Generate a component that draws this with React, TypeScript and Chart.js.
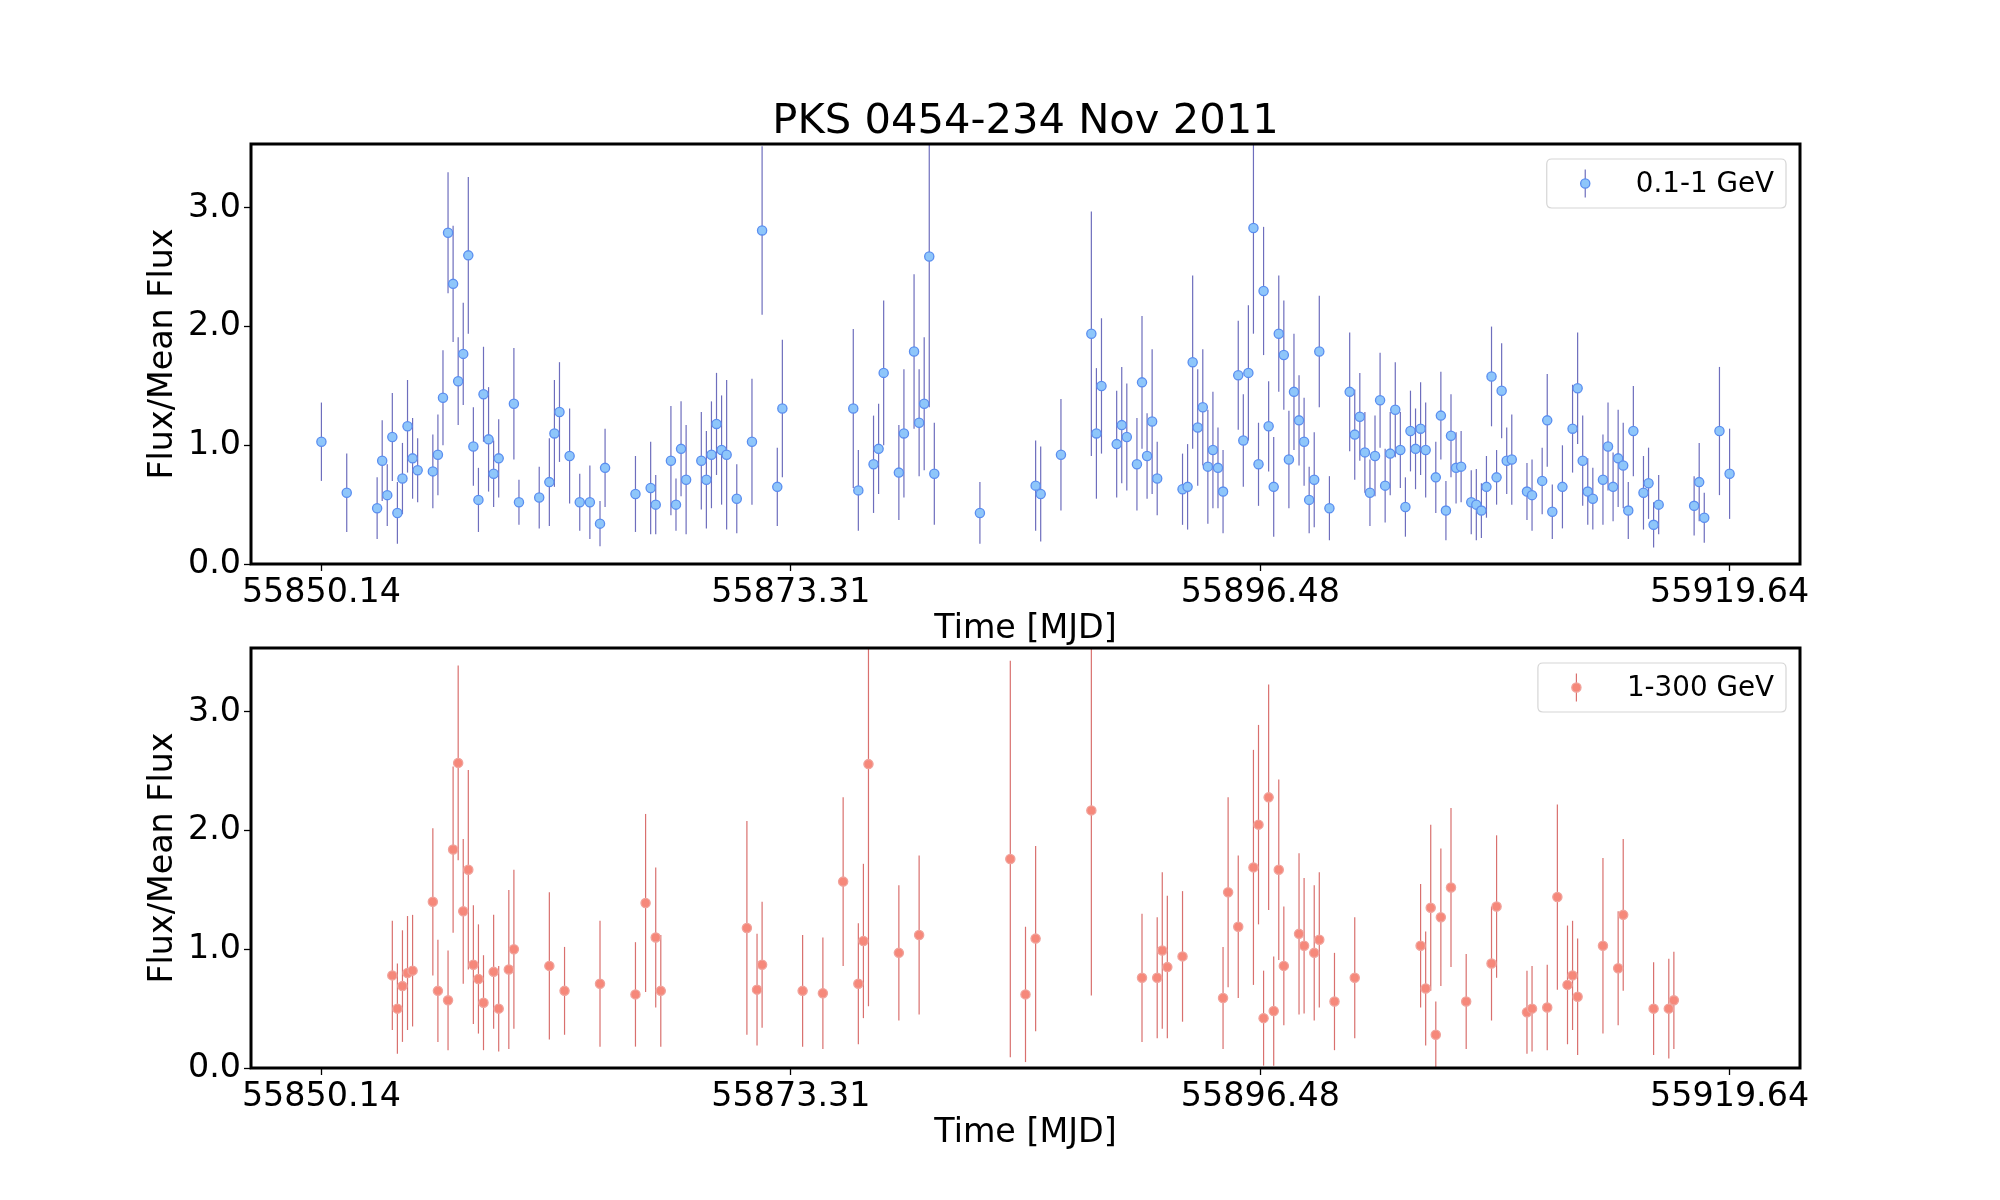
import React, { useEffect, useRef } from "react";
import { Chart, registerables } from "chart.js";

Chart.register(...registerables);

// ---------- data ----------
const TITLE = "PKS 0454-234 Nov 2011";
const X_LABEL = "Time [MJD]";
const Y_LABEL = "Flux/Mean Flux";
const X_TICKS = [55850.14, 55873.31, 55896.48, 55919.64];
const Y_TICKS = [0, 1, 2, 3];
const X_MIN = 55846.665;
const X_MAX = 55923.115;
const Y_MIN = 0;
const Y_MAX = 3.538;

const LOW_LABEL = "0.1-1 GeV";
const LOW_T = [
  55850.14, 55851.39, 55852.89, 55853.14, 55853.39, 55853.64, 55853.89, 55854.14, 55854.39, 55854.64,
  55854.89, 55855.64, 55855.89, 55856.14, 55856.39, 55856.64, 55856.89, 55857.14, 55857.39, 55857.64,
  55857.89, 55858.14, 55858.39, 55858.64, 55858.89, 55859.64, 55859.89, 55860.89, 55861.39, 55861.64,
  55861.89, 55862.39, 55862.89, 55863.39, 55863.89, 55864.14, 55865.64, 55866.39, 55866.64, 55867.39,
  55867.64, 55867.89, 55868.14, 55868.89, 55869.14, 55869.39, 55869.64, 55869.89, 55870.14, 55870.64,
  55871.39, 55871.89, 55872.64, 55872.89, 55876.39, 55876.64, 55877.39, 55877.64, 55877.89, 55878.64,
  55878.89, 55879.39, 55879.64, 55879.89, 55880.14, 55880.39, 55882.64, 55885.39, 55885.64, 55886.64,
  55888.14, 55888.39, 55888.64, 55889.39, 55889.64, 55889.89, 55890.39, 55890.64, 55890.89, 55891.14,
  55891.39, 55892.64, 55892.89, 55893.14, 55893.39, 55893.64, 55893.89, 55894.14, 55894.39, 55894.64,
  55895.39, 55895.64, 55895.89, 55896.14, 55896.39, 55896.64, 55896.89, 55897.14, 55897.39, 55897.64,
  55897.89, 55898.14, 55898.39, 55898.64, 55898.89, 55899.14, 55899.39, 55899.89, 55900.89, 55901.14,
  55901.39, 55901.64, 55901.89, 55902.14, 55902.39, 55902.64, 55902.89, 55903.14, 55903.39, 55903.64,
  55903.89, 55904.14, 55904.39, 55904.64, 55905.14, 55905.39, 55905.64, 55905.89, 55906.14, 55906.39,
  55906.89, 55907.14, 55907.39, 55907.64, 55907.89, 55908.14, 55908.39, 55908.64, 55908.89, 55909.64,
  55909.89, 55910.39, 55910.64, 55910.89, 55911.39, 55911.89, 55912.14, 55912.39, 55912.64, 55912.89,
  55913.39, 55913.64, 55913.89, 55914.14, 55914.39, 55914.64, 55914.89, 55915.39, 55915.64, 55915.89,
  55916.14, 55917.89, 55918.14, 55918.39, 55919.14, 55919.64,
];
const LOW_FLUX = [
  1.03, 0.60, 0.47, 0.87, 0.58, 1.07, 0.43, 0.72, 1.16, 0.89,
  0.79, 0.78, 0.92, 1.40, 2.79, 2.36, 1.54, 1.77, 2.60, 0.99,
  0.54, 1.43, 1.05, 0.76, 0.89, 1.35, 0.52, 0.56, 0.69, 1.10,
  1.28, 0.91, 0.52, 0.52, 0.34, 0.81, 0.59, 0.64, 0.50, 0.87,
  0.50, 0.97, 0.71, 0.87, 0.71, 0.92, 1.18, 0.96, 0.92, 0.55,
  1.03, 2.81, 0.65, 1.31, 1.31, 0.62, 0.84, 0.97, 1.61, 0.77,
  1.10, 1.79, 1.19, 1.35, 2.59, 0.76, 0.43, 0.66, 0.59, 0.92,
  1.94, 1.10, 1.50, 1.01, 1.17, 1.07, 0.84, 1.53, 0.91, 1.20,
  0.72, 0.63, 0.65, 1.70, 1.15, 1.32, 0.82, 0.96, 0.81, 0.61,
  1.59, 1.04, 1.61, 2.83, 0.84, 2.30, 1.16, 0.65, 1.94, 1.76,
  0.88, 1.45, 1.21, 1.03, 0.54, 0.71, 1.79, 0.47, 1.45, 1.09,
  1.24, 0.94, 0.60, 0.91, 1.38, 0.66, 0.93, 1.30, 0.96, 0.48,
  1.12, 0.97, 1.14, 0.96, 0.73, 1.25, 0.45, 1.08, 0.81, 0.82,
  0.52, 0.50, 0.45, 0.65, 1.58, 0.73, 1.46, 0.87, 0.88, 0.61,
  0.58, 0.70, 1.21, 0.44, 0.65, 1.14, 1.48, 0.87, 0.61, 0.55,
  0.71, 0.99, 0.65, 0.89, 0.83, 0.45, 1.12, 0.60, 0.68, 0.33,
  0.50, 0.49, 0.69, 0.39, 1.12, 0.76,
];
const LOW_ERR = [
  0.33, 0.33, 0.26, 0.34, 0.26, 0.37, 0.26, 0.30, 0.39, 0.34,
  0.27, 0.31, 0.34, 0.40, 0.51, 0.49, 0.37, 0.43, 0.66, 0.33,
  0.27, 0.40, 0.44, 0.28, 0.33, 0.47, 0.19, 0.26, 0.37, 0.45,
  0.42, 0.40, 0.24, 0.31, 0.19, 0.33, 0.32, 0.39, 0.25, 0.46,
  0.22, 0.40, 0.46, 0.41, 0.41, 0.45, 0.43, 0.46, 0.63, 0.29,
  0.53, 0.71, 0.33, 0.58, 0.67, 0.34, 0.41, 0.38, 0.61, 0.40,
  0.54, 0.65, 0.45, 0.56, 1.27, 0.43, 0.26, 0.38, 0.40, 0.47,
  1.03, 0.55, 0.57, 0.45, 0.49, 0.45, 0.39, 0.56, 0.36, 0.61,
  0.31, 0.30, 0.36, 0.73, 0.49, 0.49, 0.48, 0.49, 0.34, 0.35,
  0.46, 0.39, 0.57, 0.89, 0.35, 0.54, 0.38, 0.42, 0.49, 0.46,
  0.41, 0.49, 0.38, 0.37, 0.28, 0.40, 0.47, 0.27, 0.50, 0.38,
  0.37, 0.34, 0.28, 0.34, 0.40, 0.31, 0.35, 0.40, 0.32, 0.25,
  0.34, 0.34, 0.39, 0.40, 0.30, 0.37, 0.25, 0.35, 0.30, 0.30,
  0.27, 0.30, 0.23, 0.26, 0.42, 0.23, 0.40, 0.28, 0.38, 0.24,
  0.30, 0.28, 0.39, 0.23, 0.35, 0.37, 0.47, 0.38, 0.28, 0.26,
  0.38, 0.37, 0.29, 0.41, 0.36, 0.24, 0.38, 0.31, 0.30, 0.19,
  0.25, 0.25, 0.33, 0.21, 0.54, 0.38,
];

const HIGH_LABEL = "1-300 GeV";
const HIGH_T = [
  55853.64, 55853.89, 55854.14, 55854.39, 55854.64, 55855.64, 55855.89, 55856.39, 55856.64, 55856.89,
  55857.14, 55857.39, 55857.64, 55857.89, 55858.14, 55858.64, 55858.89, 55859.39, 55859.64, 55861.39,
  55862.14, 55863.89, 55865.64, 55866.14, 55866.64, 55866.89, 55871.14, 55871.64, 55871.89, 55873.89,
  55874.89, 55875.89, 55876.64, 55876.89, 55877.14, 55878.64, 55879.64, 55884.14, 55884.89, 55885.39,
  55888.14, 55890.64, 55891.39, 55891.64, 55891.89, 55892.64, 55894.64, 55894.89, 55895.39, 55896.14,
  55896.39, 55896.64, 55896.89, 55897.14, 55897.39, 55897.64, 55898.39, 55898.64, 55899.14, 55899.39,
  55900.14, 55901.14, 55904.39, 55904.64, 55904.89, 55905.14, 55905.39, 55905.89, 55906.64, 55907.89,
  55908.14, 55909.64, 55909.89, 55910.64, 55911.14, 55911.64, 55911.89, 55912.14, 55913.39, 55914.14,
  55914.39, 55915.89, 55916.64, 55916.89,
];
const HIGH_FLUX = [
  0.78, 0.50, 0.69, 0.80, 0.82, 1.40, 0.65, 0.57, 1.84, 2.57,
  1.32, 1.67, 0.87, 0.75, 0.55, 0.81, 0.50, 0.83, 1.00, 0.86,
  0.65, 0.71, 0.62, 1.39, 1.10, 0.65, 1.18, 0.66, 0.87, 0.65,
  0.63, 1.57, 0.71, 1.07, 2.56, 0.97, 1.12, 1.76, 0.62, 1.09,
  2.17, 0.76, 0.76, 0.99, 0.85, 0.94, 0.59, 1.48, 1.19, 1.69,
  2.05, 0.42, 2.28, 0.48, 1.67, 0.86, 1.13, 1.03, 0.97, 1.08,
  0.56, 0.76, 1.03, 0.67, 1.35, 0.28, 1.27, 1.52, 0.56, 0.88,
  1.36, 0.47, 0.50, 0.51, 1.44, 0.70, 0.78, 0.60, 1.03, 0.84,
  1.29, 0.50, 0.50, 0.57,
];
const HIGH_ERR = [
  0.46, 0.38, 0.47, 0.48, 0.47, 0.62, 0.43, 0.42, 0.70, 0.82,
  0.61, 0.84, 0.50, 0.46, 0.40, 0.48, 0.36, 0.67, 0.67, 0.62,
  0.37, 0.53, 0.44, 0.75, 0.59, 0.47, 0.90, 0.47, 0.53, 0.47,
  0.47, 0.71, 0.51, 0.65, 2.04, 0.57, 0.67, 1.67, 0.57, 0.78,
  1.56, 0.54, 0.51, 0.66, 0.60, 0.55, 0.43, 0.80, 0.60, 0.99,
  0.84, 0.40, 0.95, 0.46, 0.76, 0.50, 0.68, 0.57, 0.57, 0.57,
  0.41, 0.51, 0.52, 0.48, 0.70, 0.28, 0.58, 0.67, 0.40, 0.48,
  0.60, 0.35, 0.36, 0.36, 0.78, 0.50, 0.46, 0.49, 0.74, 0.48,
  0.64, 0.39, 0.42, 0.41,
];

// ---------- styles ----------
const FONT = "'DejaVu Sans', 'Liberation Sans', sans-serif";
const LOW_STYLE = { fill: "#8ec6fa", edge: "#5a8ef0", ecolor: "#6e6ebd" };
const HIGH_STYLE = { fill: "#f6887a", edge: "#f0a39c", ecolor: "#d9706e" };

type PanelDef = {
  label: string;
  t: number[];
  flux: number[];
  err: number[];
  style: { fill: string; edge: string; ecolor: string };
  showTitle: boolean;
  canvasTop: number;
  canvasHeight: number;
  padTop: number;
  padBottom: number;
};

const errorBarPlugin = {
  id: "errorBars",
  beforeDatasetsDraw(chart: any) {
    const { ctx, chartArea } = chart;
    const yScale = chart.scales.y;
    ctx.save();
    ctx.beginPath();
    ctx.rect(chartArea.left, chartArea.top, chartArea.right - chartArea.left, chartArea.bottom - chartArea.top);
    ctx.clip();
    chart.data.datasets.forEach((ds: any, i: number) => {
      const meta = chart.getDatasetMeta(i);
      const errs: number[] = ds.yErr || [];
      ctx.strokeStyle = ds.errColor;
      ctx.lineWidth = 1.2;
      meta.data.forEach((pt: any, j: number) => {
        const v = ds.data[j].y;
        const e = errs[j] || 0;
        const y1 = yScale.getPixelForValue(v - e);
        const y2 = yScale.getPixelForValue(v + e);
        ctx.beginPath();
        ctx.moveTo(pt.x, y1);
        ctx.lineTo(pt.x, y2);
        ctx.stroke();
      });
    });
    ctx.restore();
  },
};

const framePlugin = {
  id: "frameAndLegend",
  afterDraw(chart: any) {
    const { ctx, chartArea } = chart;
    const { left, top, right, bottom } = chartArea;
    const opts = chart.options.plugins.frameAndLegend || {};
    ctx.save();
    ctx.strokeStyle = "#000";
    ctx.lineWidth = 3;
    ctx.strokeRect(left, top, right - left, bottom - top);

    // figure title centred over the axes
    if (opts.title) {
      ctx.fillStyle = "#000";
      ctx.font = `41.67px ${FONT}`;
      ctx.textAlign = "center";
      ctx.textBaseline = "middle";
      ctx.fillText(opts.title, (left + right) / 2, top - 22);
    }

    // legend (matplotlib style, upper right)
    const ds = chart.data.datasets[0];
    const fontPx = 27.78;
    ctx.font = `${fontPx}px ${FONT}`;
    const tw = ctx.measureText(ds.label).width;
    const boxW = 89 + tw + 12;
    const boxH = 49;
    const bx = right - 14 - boxW;
    const by = top + 15;
    ctx.beginPath();
    const r = 5;
    ctx.moveTo(bx + r, by);
    ctx.lineTo(bx + boxW - r, by);
    ctx.quadraticCurveTo(bx + boxW, by, bx + boxW, by + r);
    ctx.lineTo(bx + boxW, by + boxH - r);
    ctx.quadraticCurveTo(bx + boxW, by + boxH, bx + boxW - r, by + boxH);
    ctx.lineTo(bx + r, by + boxH);
    ctx.quadraticCurveTo(bx, by + boxH, bx, by + boxH - r);
    ctx.lineTo(bx, by + r);
    ctx.quadraticCurveTo(bx, by, bx + r, by);
    ctx.closePath();
    ctx.fillStyle = "rgba(255,255,255,0.8)";
    ctx.fill();
    ctx.strokeStyle = "#d6d6d6";
    ctx.lineWidth = 1.2;
    ctx.stroke();

    const mx = bx + 38.5;
    const my = by + boxH / 2;
    ctx.strokeStyle = ds.errColor;
    ctx.lineWidth = 1.2;
    ctx.beginPath();
    ctx.moveTo(mx, my - 14);
    ctx.lineTo(mx, my + 14);
    ctx.stroke();
    ctx.beginPath();
    ctx.arc(mx, my, 4.6, 0, Math.PI * 2);
    ctx.fillStyle = ds.backgroundColor;
    ctx.fill();
    ctx.strokeStyle = ds.borderColor;
    ctx.lineWidth = 1.3;
    ctx.stroke();

    ctx.fillStyle = "#000";
    ctx.textAlign = "left";
    ctx.textBaseline = "middle";
    ctx.fillText(ds.label, bx + 89, my + 1.5);
    ctx.restore();
  },
};

function makeConfig(p: PanelDef): any {
  const points = p.t.map((t, i) => ({ x: t, y: p.flux[i] }));
  const tickFont = { family: FONT, size: 33.33 };
  return {
    type: "scatter",
    data: {
      datasets: [
        {
          label: p.label,
          data: points,
          yErr: p.err,
          errColor: p.style.ecolor,
          backgroundColor: p.style.fill,
          borderColor: p.style.edge,
          pointRadius: 4.6,
          pointBorderWidth: 1.3,
          pointHoverRadius: 4.6,
          showLine: false,
        },
      ],
    },
    options: {
      animation: false,
      responsive: false,
      maintainAspectRatio: false,
      events: [],
      layout: { padding: { left: 0, right: 200, top: p.padTop, bottom: p.padBottom } },
      plugins: {
        legend: { display: false },
        tooltip: { enabled: false },
        title: { display: false },
        frameAndLegend: { title: p.showTitle ? TITLE : "" },
      },
      scales: {
        x: {
          type: "linear",
          min: X_MIN,
          max: X_MAX,
          afterBuildTicks: (scale: any) => {
            scale.ticks = X_TICKS.map((v) => ({ value: v }));
          },
          afterFit: (scale: any) => {
            scale.height = 86;
          },
          ticks: {
            autoSkip: false,
            maxRotation: 0,
            minRotation: 0,
            padding: 2,
            color: "#000",
            font: tickFont,
            callback: (v: number) => Number(v).toFixed(2),
          },
          grid: {
            display: true,
            drawOnChartArea: false,
            drawTicks: true,
            tickLength: 7,
            tickWidth: 1.3,
            tickColor: "#000",
          },
          border: { display: false },
          title: {
            display: true,
            text: X_LABEL,
            color: "#000",
            font: { family: FONT, size: 33.33, lineHeight: 1.2 },
            padding: { top: 0, bottom: 1 },
          },
        },
        y: {
          type: "linear",
          min: Y_MIN,
          max: Y_MAX,
          afterBuildTicks: (scale: any) => {
            scale.ticks = Y_TICKS.map((v) => ({ value: v }));
          },
          afterFit: (scale: any) => {
            scale.width = 251;
          },
          ticks: {
            padding: 3,
            color: "#000",
            font: tickFont,
            callback: (v: number) => Number(v).toFixed(1),
          },
          grid: {
            display: true,
            drawOnChartArea: false,
            drawTicks: true,
            tickLength: 7,
            tickWidth: 1.3,
            tickColor: "#000",
          },
          border: { display: false },
          title: {
            display: true,
            text: Y_LABEL,
            color: "#000",
            font: { family: FONT, size: 33.33, lineHeight: 1.2 },
            padding: { top: 143, bottom: 0 },
          },
        },
      },
    },
    plugins: [errorBarPlugin, framePlugin],
  };
}

const PANELS: PanelDef[] = [
  {
    label: LOW_LABEL,
    t: LOW_T,
    flux: LOW_FLUX,
    err: LOW_ERR,
    style: LOW_STYLE,
    showTitle: true,
    canvasTop: 0,
    canvasHeight: 650,
    padTop: 144,
    padBottom: 0,
  },
  {
    label: HIGH_LABEL,
    t: HIGH_T,
    flux: HIGH_FLUX,
    err: HIGH_ERR,
    style: HIGH_STYLE,
    showTitle: false,
    canvasTop: 600,
    canvasHeight: 600,
    padTop: 48,
    padBottom: 46,
  },
];

function Panel({ def }: { def: PanelDef }) {
  const ref = useRef<HTMLCanvasElement | null>(null);
  useEffect(() => {
    if (!ref.current) return;
    const chart = new Chart(ref.current, makeConfig(def));
    return () => chart.destroy();
  }, [def]);
  return (
    <canvas
      ref={ref}
      width={2000}
      height={def.canvasHeight}
      style={{ position: "absolute", left: 0, top: def.canvasTop, width: 2000, height: def.canvasHeight }}
    />
  );
}

export default function App() {
  return (
    <div style={{ position: "fixed", left: 0, top: 0, width: 2000, height: 1200, background: "#fff", overflow: "hidden" }}>
      {PANELS.map((p, i) => (
        <Panel key={i} def={p} />
      ))}
    </div>
  );
}
